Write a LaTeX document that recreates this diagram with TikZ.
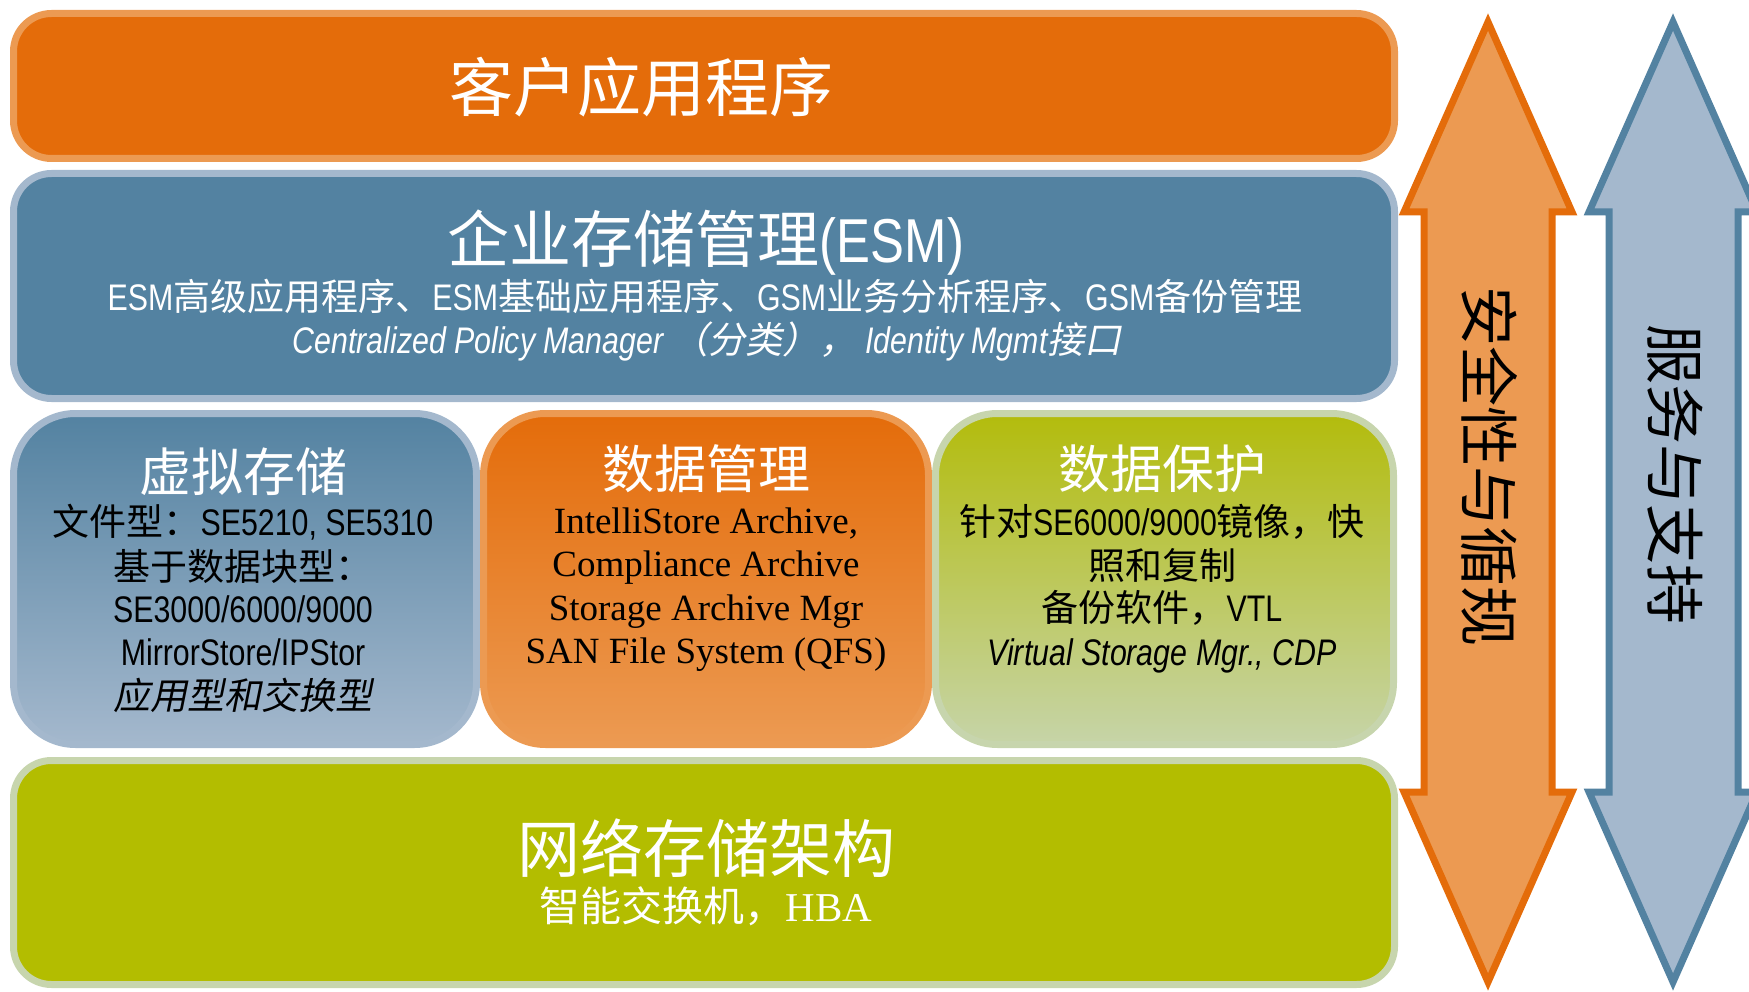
\documentclass[tikz,border=0pt]{standalone}
\usepackage{fontspec}
\setmainfont{Liberation Serif}
\newfontfamily\cjk{Noto Sans CJK SC}
\newfontfamily\cjkit{Noto Sans CJK SC}[FakeSlant=0.2]
\newfontfamily\nar{Liberation Sans}[FakeStretch=0.82]
\newcommand\zh[1]{{\cjk #1}}
\newcommand\zhi[1]{{\cjkit #1}}
\newcommand\fs[1]{\fontsize{#1}{#1}\selectfont}
\definecolor{orD}{HTML}{E46C0A}
\definecolor{orL}{HTML}{EC9A52}
\definecolor{blD}{HTML}{5382A1}
\definecolor{blL}{HTML}{A4B8CD}
\definecolor{grD}{HTML}{B3BC0C}
\definecolor{grL}{HTML}{C6D4A8}
\definecolor{olive}{HTML}{B3BD00}
\definecolor{grB}{HTML}{C7D5AD}
\tikzset{
  bar/.style={line width=7pt, rounded corners=38pt},
  cell/.style={line width=7pt, rounded corners=62pt},
  txt/.style={inner sep=0pt, anchor=base, text=black},
  wtxt/.style={inner sep=0pt, anchor=base, text=white},
  bigarrow/.style={line width=7pt, line join=miter},
  vtxt/.style={inner sep=0pt, anchor=center, rotate=-90, text=black, font=\cjk\fs{60}}
}
\begin{document}
\begin{tikzpicture}[x=1pt,y=-1pt]
\useasboundingbox (0,0) rectangle (1749,992);
% bars and cells
\draw[bar, draw=orL, fill=orD] (13.5,13.5) rectangle (1394.5,158.5);
\draw[bar, draw=blL, fill=blD] (13.5,173.5) rectangle (1394.5,398.5);
\draw[cell, draw=blL, top color=blD, bottom color=blL] (13.5,413.5) rectangle (476.5,744.5);
\draw[cell, draw=orL, top color=orD, bottom color=orL] (483.5,413.5) rectangle (928.5,744.5);
\draw[cell, draw=grB, top color=grD, bottom color=grL] (935.5,413.5) rectangle (1393.5,744.5);
\draw[bar, draw=grB, fill=olive] (13.5,760.5) rectangle (1394.5,984.5);
% arrows
\draw[bigarrow, draw=orD, fill=orL]
  (1488,22) -- (1572,212) -- (1552,212) -- (1552,792) -- (1572,792) -- (1488,982)
  -- (1404,792) -- (1424,792) -- (1424,212) -- (1404,212) -- cycle;
\draw[bigarrow, draw=blD, fill=blL]
  (1673,22) -- (1757,212) -- (1738,212) -- (1738,792) -- (1757,792) -- (1673,982)
  -- (1589,792) -- (1609,792) -- (1609,212) -- (1589,212) -- cycle;
\node[vtxt] (va) at (1489,467) {安全性与循规};
\node[vtxt] (vb) at (1675,475) {服务与支持};
% top
\node[wtxt, font=\cjk\fs{64}] (t1) at (641,112) {客户应用程序};
% ESM
\node[wtxt] (e1) at (706,263) {\fs{62}\zh{企业存储管理}{\nar(ESM)}};
\node[wtxt] (e2) at (705,311) {\fs{37}\nar ESM\zh{高级应用程序、}ESM\zh{基础应用程序、}GSM\zh{业务分析程序、}GSM\zh{备份管理}};
\node[wtxt] (e3) at (707,354) {\fs{37}\nar\itshape Centralized Policy Manager \zhi{（分类），} Identity Mgmt\zhi{接口}};
% left cell
\node[wtxt, font=\cjk\fs{52}] (l0) at (243,491) {虚拟存储};
\node[txt] (l1) at (243,535) {\fs{37}\nar\zh{文件型：}SE5210, SE5310};
\node[txt] (l2) at (243,580) {\fs{37}\zh{基于数据块型：}};
\node[txt] (l3) at (243,622) {\fs{37}\nar SE3000/6000/9000};
\node[txt] (l4) at (243,665) {\fs{37}\nar MirrorStore/IPStor};
\node[txt] (l5) at (243,709) {\fs{37}\zhi{应用型和交换型}};
% middle cell
\node[wtxt, font=\cjk\fs{52}] (m0) at (706,488) {数据管理};
\node[txt] (m1) at (706,533) {\fs{37}IntelliStore Archive,};
\node[txt] (m2) at (706,576) {\fs{37}Compliance Archive};
\node[txt] (m3) at (706,620) {\fs{37}Storage Archive Mgr};
\node[txt] (m4) at (706,663) {\fs{37}SAN File System (QFS)};
% right cell
\node[wtxt, font=\cjk\fs{52}] (r0) at (1162,488) {数据保护};
\node[txt] (r1) at (1162,535) {\fs{37}\nar\zh{针对}SE6000/9000\zh{镜像，快}};
\node[txt] (r2) at (1162,579) {\fs{37}\zh{照和复制}};
\node[txt] (r3) at (1162,621) {\fs{37}\nar\zh{备份软件，}VTL};
\node[txt] (r4) at (1162,665) {\fs{37}\nar\itshape Virtual Storage Mgr., CDP};
% bottom
\node[wtxt, font=\cjk\fs{63}] (b1) at (706,872) {网络存储架构};
\node[wtxt] (b2) at (706,921) {\fs{41}\zh{智能交换机，}HBA};
\end{tikzpicture}
\end{document}
